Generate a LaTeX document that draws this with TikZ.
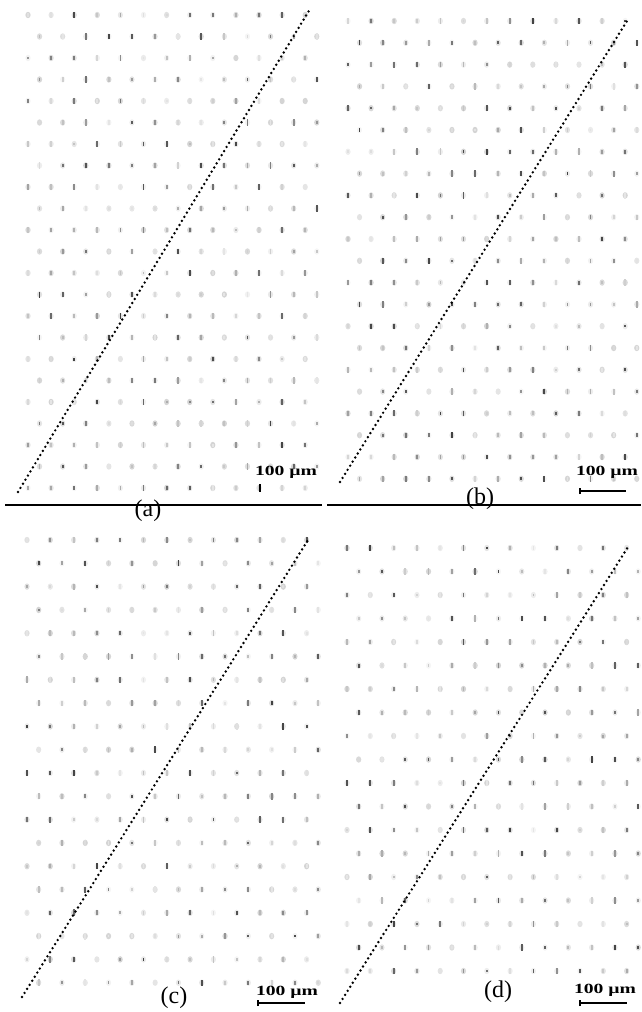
\documentclass[tikz,border=0pt]{standalone}
\usepackage{fontspec}
\setmainfont{Liberation Serif}
\tikzset{
  hline/.style={line width=1.9pt, black},
  diag/.style={line width=2.7pt, line cap=round, dash pattern=on 0pt off 4.8pt, black},
  panellabel/.style={font=\fontsize{24}{24}\selectfont, inner sep=0pt},
  scaletext/.style={font=\bfseries\fontsize{14}{14}\selectfont, inner sep=0pt, xscale=1.4},
  scalebar/.style={line width=1.8pt, black},
}
\newcommand{\mygrid}[7]{%
  \foreach \r in {0,...,#5}{%
    \pgfmathsetmacro{\yy}{#3+\r*#4}%
    \pgfmathsetmacro{\xs}{#1+mod(\r+#7,2)*#2/2}%
    \foreach \c in {0,...,14}{%
      \pgfmathsetmacro{\xx}{\xs+\c*#2}%
      \pgfmathsetmacro{\bb}{int(4+14*rnd)}%
      \pgfmathsetmacro{\gg}{int(10+65*rnd^1.6)}%
      \pgfmathsetmacro{\hh}{1.2+2.2*rnd}%
      \ifdim\xx pt<#6pt
        \fill[black!\bb] (\xx,\yy) ellipse (2.6 and 3.2);
        \fill[black!\gg] (\xx-0.9,\yy-\hh) rectangle (\xx+0.9,\yy+\hh);
      \fi
    }}}
\begin{document}
\begin{tikzpicture}[x=1pt,y=-1pt]
\useasboundingbox (0,0) rectangle (641,1012);
\pgfmathsetseed{7}
% dot grids
\mygrid{28}{23.1}{15}{21.5}{22}{319}{0}
\mygrid{348}{23.1}{21}{21.8}{21}{640}{0}
\mygrid{27}{23.3}{540}{23.3}{19}{319}{0}
\mygrid{347}{23.3}{548}{23.5}{18}{640}{0}
% diagonal dotted lines
\coordinate (a1) at (18,492);  \coordinate (a2) at (310,9);
\coordinate (b1) at (340,482); \coordinate (b2) at (627,21);
\coordinate (c1) at (22,997);  \coordinate (c2) at (308,540);
\coordinate (d1) at (340,1003);\coordinate (d2) at (628,547);
\draw[diag] (a1) -- (a2);
\draw[diag] (b1) -- (b2);
\draw[diag] (c1) -- (c2);
\draw[diag] (d1) -- (d2);
% separator lines
\coordinate (hl1) at (5,505);   \coordinate (hl2) at (322,505);
\coordinate (hr1) at (327,505); \coordinate (hr2) at (641,505);
\draw[hline] (hl1) -- (hl2);
\draw[hline] (hr1) -- (hr2);
% panel labels
\node[panellabel] (la) at (148,511) {(a)};
\node[panellabel] (lb) at (480,499) {(b)};
\node[panellabel] (lc) at (174,998) {(c)};
\node[panellabel] (ld) at (498,992) {(d)};
% scale bars
\node[scaletext] (sa) at (286,472) {100 µm};
\coordinate (ta1) at (260,484); \coordinate (ta2) at (260,492);
\draw[scalebar] (ta1) -- (ta2);
\node[scaletext] (sb) at (607,472) {100 µm};
\coordinate (tb1) at (580,491); \coordinate (tb2) at (626,491);
\draw[scalebar] (tb1) -- (tb2);
\draw[scalebar] ([yshift=-3pt]tb1) -- ([yshift=3pt]tb1);
\node[scaletext] (sc) at (287,992) {100 µm};
\coordinate (tc1) at (258,1003); \coordinate (tc2) at (305,1003);
\draw[scalebar] (tc1) -- (tc2);
\draw[scalebar] ([yshift=-3pt]tc1) -- ([yshift=3pt]tc1);
\node[scaletext] (sd) at (605,990) {100 µm};
\coordinate (td1) at (580,1003); \coordinate (td2) at (627,1003);
\draw[scalebar] (td1) -- (td2);
\draw[scalebar] ([yshift=-3pt]td1) -- ([yshift=3pt]td1);
\end{tikzpicture}
\end{document}
